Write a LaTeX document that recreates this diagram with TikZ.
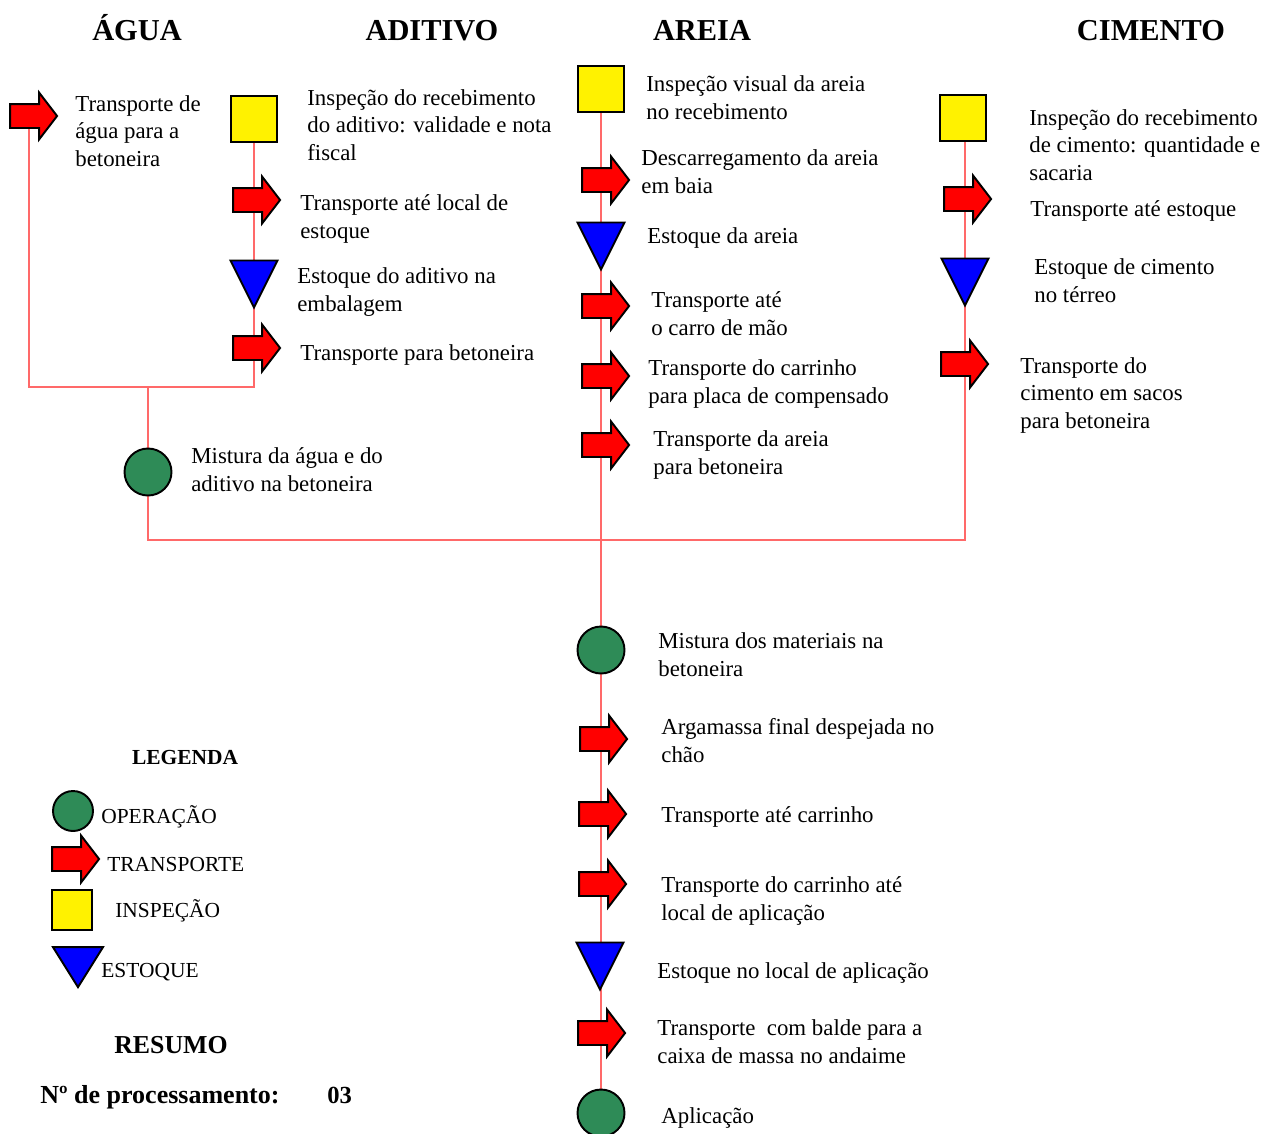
\documentclass[tikz,border=0pt]{standalone}
\usepackage{fontspec}
\setmainfont{Liberation Serif}
\usetikzlibrary{shapes.geometric,shapes.arrows,backgrounds}
\definecolor{verdeop}{RGB}{46,139,87}
\definecolor{linhav}{RGB}{255,105,105}
\tikzset{
  oper/.style={circle,draw,fill=verdeop,line width=1.1pt,minimum size=0.94cm,inner sep=0pt},
  insp/.style={draw,fill=yellow,line width=1.1pt,minimum size=0.92cm,inner sep=0pt},
  estq/.style={isosceles triangle,isosceles triangle stretches,shape border rotate=-90,draw,fill=blue,line width=1.1pt,minimum width=0.94cm,minimum height=0.94cm,inner sep=0pt},
  transp/.style={single arrow,draw,fill=red,line width=1.1pt,minimum height=0.94cm,single arrow head extend=0.23cm,single arrow tip angle=105,inner sep=0.22cm,xshift=-0.08cm},
  lig/.style={draw=linhav,line width=0.9pt},
  txt/.style={anchor=base west,align=left,inner sep=0pt,font=\fontsize{13}{15.4}\selectfont},
  leg/.style={anchor=base west,inner sep=0pt,font=\fontsize{12.2}{15}\selectfont},
  tit/.style={anchor=base,inner sep=0pt,font=\bfseries\fontsize{17.3}{20}\selectfont},
}
\begin{document}
\begin{tikzpicture}[x=0.02cm,y=-0.02cm]
\useasboundingbox (0,0) rectangle (1263,1133);
\node[tit] (hAgua) at (137,40) {ÁGUA};
\node[tit] (hAdit) at (432,40) {ADITIVO};
\node[tit] (hAreia) at (702,40) {AREIA};
\node[tit] (hCim) at (1151,40) {CIMENTO};
% agua
\node[transp] (ag1) at (33,116) {};
\node[txt] (tAg1) at (75,166) {Transporte de\\água para a\\betoneira};
% aditivo
\node[insp] (ad1) at (254,119) {};
\node[transp] (ad2) at (256,200) {};
\node[estq] (ad3) at (254,275) {};
\node[transp] (ad4) at (256,348) {};
\node[txt] (tAd1) at (307,160) {Inspeção do recebimento\\do aditivo: validade e nota\\fiscal};
\node[txt] (tAd2) at (300,238) {Transporte até local de\\estoque};
\node[txt] (tAd3) at (297,311) {Estoque do aditivo na\\embalagem};
\node[txt] (tAd4) at (300,360) {Transporte para betoneira};
\node[oper] (mx) at (148,472) {};
\node[txt] (tMx) at (191,491) {Mistura da água e do\\aditivo na betoneira};
% areia
\node[insp] (ar1) at (601,89) {};
\node[transp] (ar2) at (605,180) {};
\node[estq] (ar3) at (601,237) {};
\node[transp] (ar4) at (605,306) {};
\node[transp] (ar5) at (605,376) {};
\node[transp] (ar6) at (605,445) {};
\node[txt] (tAr1) at (646,119) {Inspeção visual da areia\\no recebimento};
\node[txt] (tAr2) at (641,193) {Descarregamento da areia\\em baia};
\node[txt] (tAr3) at (647,243) {Estoque da areia};
\node[txt] (tAr4) at (651,335) {Transporte até\\o carro de mão};
\node[txt] (tAr5) at (648,403) {Transporte do carrinho\\para placa de compensado};
\node[txt] (tAr6) at (653,474) {Transporte da areia\\para betoneira};
% cimento
\node[insp] (ci1) at (963,118) {};
\node[transp] (ci2) at (967,199) {};
\node[estq] (ci3) at (965,273) {};
\node[transp] (ci4) at (964,364) {};
\node[txt] (tCi1) at (1029,180) {Inspeção do recebimento\\de cimento: quantidade e\\sacaria};
\node[txt] (tCi2) at (1030,216) {Transporte até estoque};
\node[txt] (tCi3) at (1034,302) {Estoque de cimento\\no térreo};
\node[txt] (tCi4) at (1020,428) {Transporte do\\cimento em sacos\\para betoneira};
% final
\node[oper] (fm1) at (601,650) {};
\node[transp] (fm2) at (603,739) {};
\node[transp] (fm3) at (602,814) {};
\node[transp] (fm4) at (602,884) {};
\node[estq] (fm5) at (600,957) {};
\node[transp] (fm6) at (601,1033) {};
\node[oper] (fm7) at (601,1113) {};
\node[txt] (tFm1) at (658,676) {Mistura dos materiais na\\betoneira};
\node[txt] (tFm2) at (661,762) {Argamassa final despejada no\\chão};
\node[txt] (tFm3) at (661,822) {Transporte até carrinho};
\node[txt] (tFm4) at (661,920) {Transporte do carrinho até\\local de aplicação};
\node[txt] (tFm5) at (657,978) {Estoque no local de aplicação};
\node[txt] (tFm6) at (657,1063) {Transporte\ \ com balde para a\\caixa de massa no andaime};
\node[txt] (tFm7) at (661,1123) {Aplicação};
% legenda
\node[anchor=base,inner sep=0pt,font=\bfseries\fontsize{12.2}{14}\selectfont] (leg) at (185,764) {LEGENDA};
\node[oper,minimum size=0.8cm] (lgO) at (73,811) {};
\node[transp] (lgT) at (75,859) {};
\node[insp,minimum size=0.8cm] (lgI) at (72,910) {};
\node[estq,minimum width=1cm,minimum height=0.8cm] (lgE) at (78,961) {};
\node[leg] (tLgO) at (101,823) {OPERAÇÃO};
\node[leg] (tLgT) at (107,871) {TRANSPORTE};
\node[leg] (tLgI) at (115,917) {INSPEÇÃO};
\node[leg] (tLgE) at (101,977) {ESTOQUE};
\node[anchor=base,inner sep=0pt,font=\bfseries\fontsize{14.7}{17}\selectfont] (res) at (171,1053) {RESUMO};
\node[anchor=base west,inner sep=0pt,font=\bfseries\fontsize{14.8}{17}\selectfont] (nproc) at (40,1103) {Nº de processamento:};
\node[anchor=base west,inner sep=0pt,font=\bfseries\fontsize{14}{17}\selectfont] (nval) at (327,1103) {03};
\begin{scope}[on background layer]
\coordinate (jAd) at (254,387);
\coordinate (jMx) at (148,387);
\coordinate (jBx) at (148,540);
\coordinate (jCi) at (965,540);
\draw[lig] (ag1.center) |- (jAd) -- (ad1.center);
\draw[lig] (jMx) -- (mx) -- (jBx) -- (jCi) -- (ci1.center -| jCi);
\draw[lig] (ar1.center) -- (fm7.center);
\end{scope}
\end{tikzpicture}
\end{document}
